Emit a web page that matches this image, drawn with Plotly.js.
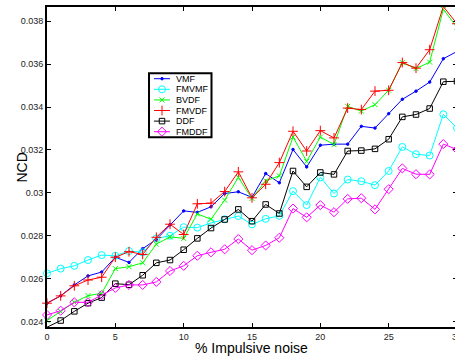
<!DOCTYPE html>
<html><head><meta charset="utf-8">
<script src="https://cdn.plot.ly/plotly-3.0.1.min.js"></script>
<style>html,body{margin:0;padding:0;overflow:hidden;background:#fff}</style>
</head><body>
<div id="chart"></div>
<script>
// Impulsive noise percentages
const noise = [0,1,2,3,4,5,6,7,8,9,10,11,12,13,14,15,16,17,18,19,20,21,22,23,24,25,26,27,28,29,30];

const VMF   = [0.02486,0.0252,0.02571,0.02613,0.02631,0.0270,0.02676,0.0274,0.02783,0.02851,0.02916,0.02909,0.02935,0.02997,0.03005,0.02979,0.0309,0.03047,0.03202,0.03121,0.03222,0.03227,0.03227,0.0331,0.03302,0.03369,0.03436,0.03474,0.03516,0.03625,0.03659];
const FMVMF = [0.02625,0.02647,0.0266,0.02687,0.0271,0.02707,0.02729,0.02723,0.02788,0.0280,0.0284,0.02838,0.0286,0.02877,0.02892,0.02853,0.02879,0.02893,0.03008,0.02943,0.03072,0.02997,0.03062,0.03054,0.03036,0.03102,0.03214,0.0318,0.03174,0.03366,0.03302];
const BVDF  = [0.02405,0.02447,0.0249,0.02521,0.02532,0.02647,0.02656,0.02674,0.02761,0.02795,0.02788,0.02902,0.02877,0.02966,0.03072,0.02974,0.03056,0.03079,0.0326,0.03147,0.0326,0.03225,0.03403,0.03381,0.03411,0.03478,0.03607,0.03579,0.03609,0.03855,0.03772];
const FMVDF = [0.02486,0.0252,0.02567,0.02594,0.02607,0.0270,0.02726,0.02713,0.02793,0.02854,0.02806,0.02949,0.02952,0.03006,0.03098,0.02977,0.0304,0.03141,0.03287,0.03195,0.0329,0.03256,0.03395,0.03388,0.03474,0.03478,0.03607,0.03581,0.03667,0.03868,0.03788];
const DDF   = [0.02374,0.02405,0.02448,0.02486,0.02512,0.02577,0.02572,0.02616,0.02674,0.02687,0.02735,0.02788,0.02836,0.02876,0.02923,0.02868,0.02946,0.02904,0.03102,0.03028,0.03095,0.03086,0.03195,0.03197,0.03205,0.0325,0.03354,0.03365,0.03393,0.03518,0.0352];
const FMDDF = [0.02431,0.02451,0.0249,0.0249,0.02524,0.02557,0.02571,0.02571,0.02585,0.02636,0.0266,0.02707,0.02723,0.02737,0.02785,0.02733,0.02755,0.02791,0.02927,0.02886,0.02943,0.0291,0.02972,0.02975,0.02923,0.03017,0.03114,0.03087,0.03086,0.03227,0.03202];

const seriesNames = ['VMF','FMVMF','BVDF','FMVDF','DDF','FMDDF'];
const seriesData  = [VMF, FMVMF, BVDF, FMVDF, DDF, FMDDF];
const xTicks = [0,5,10,15,20,25,30];
const xTickText = ['0','5','10','15','20','25','30'];
const yTicks = [0.024,0.026,0.028,0.030,0.032,0.034,0.036,0.038];
const yTickText = ['0.024','0.026','0.028','0.03','0.032','0.034','0.036','0.038'];
const xTitle = '% Impulsive noise';
const yTitle = 'NCD';

const styles = [
  {color:'#0000ff', symbol:'circle', size:2.5},
  {color:'#00ffff', symbol:'circle-open', size:7},
  {color:'#00ff00', symbol:'x-thin-open', size:5},
  {color:'#ff0000', symbol:'cross-thin-open', size:7},
  {color:'#000000', symbol:'square-open', size:5.5},
  {color:'#ff00ff', symbol:'diamond-open', size:7}
];

const traces = seriesData.map((ys, k) => ({
  x: noise, y: ys, type:'scatter', mode:'lines+markers', name: seriesNames[k],
  line:{color:styles[k].color, width:1},
  marker:{symbol:styles[k].symbol, size:styles[k].size, color:styles[k].color,
          line:{color:styles[k].color, width:1}},
  showlegend:false, cliponaxis:false
}));

const W = 472, H = 358;
const L = 47, R = 457, T = 7, B = 327;
const fx = px => (px - L) / (R - L);
const fy = py => (B - py) / (B - T);
const font = {family:'Liberation Sans, Arial', color:'#000'};
const shapes = [];
const annotations = [];
// compact MATLAB-style legend box
shapes.push({type:'rect', xref:'paper', yref:'paper', x0:fx(149), x1:fx(211.5), y0:fy(137.3), y1:fy(73.3),
             line:{color:'#000', width:2}, fillcolor:'#fff', layer:'below'});
seriesNames.forEach((nm, k) => {
  const py = 78.7 + 10.6 * k;
  shapes.push({type:'line', xref:'paper', yref:'paper', x0:fx(154), x1:fx(170), y0:fy(py), y1:fy(py),
               line:{color:styles[k].color, width:1}, layer:'below'});
  annotations.push({xref:'paper', yref:'paper', x:fx(173.5), y:fy(py), text:nm, showarrow:false,
                    xanchor:'left', yanchor:'middle', font:Object.assign({size:9}, font)});
  traces.push({x:[fx(162)], y:[fy(py)], xaxis:'x2', yaxis:'y2', type:'scatter', mode:'markers',
    marker:{symbol:styles[k].symbol, size:styles[k].size, color:styles[k].color,
            line:{color:styles[k].color, width:1}}, showlegend:false, cliponaxis:false, hoverinfo:'skip'});
});
// axis titles
annotations.push({xref:'paper', yref:'paper', x:fx(251), y:fy(348), text:xTitle, showarrow:false,
                  xanchor:'center', yanchor:'middle', font:Object.assign({size:14}, font)});
annotations.push({xref:'paper', yref:'paper', x:fx(21.5), y:fy(168), text:yTitle, showarrow:false, textangle:-90,
                  xanchor:'center', yanchor:'middle', font:Object.assign({size:14}, font)});

const axisCommon = {
  showgrid:false, zeroline:false, showline:true, linecolor:'#000', linewidth:2,
  mirror:'ticks', ticks:'inside', ticklen:4, tickcolor:'#000', tickwidth:1,
  tickfont:{family:'Liberation Sans, Arial', size:9, color:'#222'}
};

const layout = {
  width:W, height:H,
  margin:{l:L, r:W-R, t:T, b:H-B},
  paper_bgcolor:'#fff', plot_bgcolor:'#fff',
  showlegend:false,
  xaxis: Object.assign({}, axisCommon, {range:[0,30], tickvals:xTicks, ticktext:xTickText}),
  yaxis: Object.assign({}, axisCommon, {range:[0.02375,0.03866], tickvals:yTicks, ticktext:yTickText}),
  xaxis2:{overlaying:'x', range:[0,1], visible:false, fixedrange:true},
  yaxis2:{overlaying:'y', range:[0,1], visible:false, fixedrange:true},
  shapes: shapes,
  annotations: annotations
};

Plotly.newPlot('chart', traces, layout, {displayModeBar:false, staticPlot:true});
</script>
</body></html>
